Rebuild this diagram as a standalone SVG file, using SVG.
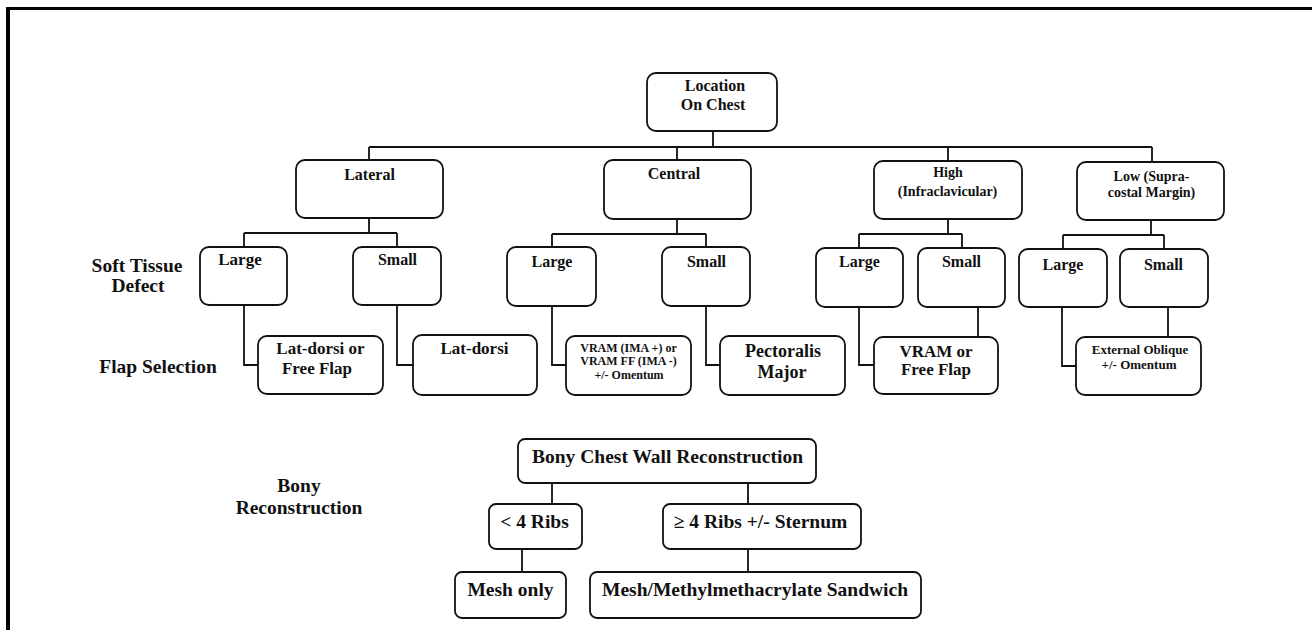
<svg xmlns="http://www.w3.org/2000/svg" width="1312" height="630" viewBox="0 0 1312 630">
<style>
.box{fill:#fff;stroke:#111;stroke-width:1.8}
.c{fill:none;stroke:#111;stroke-width:1.8}
text{font-family:"Liberation Serif","Times New Roman",serif;font-weight:bold;fill:#111;text-anchor:middle}
.s16{font-size:16px}
.s14{font-size:14px}
.s17{font-size:17px}
.s18{font-size:18px}
.s13{font-size:13px}
.s12{font-size:12px}
.lbl{font-size:19.5px}
</style>
<rect x="0" y="0" width="1312" height="630" fill="#fff"/>
<g id="frame">
<rect x="6" y="7" width="1306" height="3" fill="#000"/>
<rect x="6" y="7" width="4" height="623" fill="#000"/>
</g>
<g id="connectors">
<path class="c" d="M713 131V147M369 147H1152M369 147V160M677 147V160M948 147V161M1152 147V162"/>
<path class="c" d="M369 218V233M244 233H397M244 233V247M397 233V247"/>
<path class="c" d="M677 219V234M552 234H706M552 234V247M706 234V247"/>
<path class="c" d="M948 219V234M859 234H962M859 234V248M962 234V248"/>
<path class="c" d="M1151 220V235M1063 235H1164M1063 235V249M1164 235V249"/>
<path class="c" d="M244 305V365H258M397 305V365H413M552 306V365H566M706 306V365H720M859 307V365H874M978 307V337M1062 307V366H1076M1168 307V337"/>
<path class="c" d="M552 483V504M748 483V504M522 549V572M748 549V572"/>
</g>
<g id="location"><rect class="box" x="647" y="73" width="130" height="58" rx="9"/><text class="s16" x="715" y="91">Location</text><text class="s16" x="713" y="110">On Chest</text></g>
<g id="lateral"><rect class="box" x="296" y="160" width="147" height="58" rx="9"/><text class="s16" x="369.5" y="180">Lateral</text></g>
<g id="central"><rect class="box" x="604" y="160" width="147" height="59" rx="9"/><text class="s16" x="674" y="179">Central</text></g>
<g id="high"><rect class="box" x="874" y="161" width="148" height="58" rx="9"/><text class="s14" x="948" y="177">High</text><text class="s14" x="947.5" y="196">(Infraclavicular)</text></g>
<g id="low"><rect class="box" x="1077" y="162" width="147" height="58" rx="9"/><text class="s14" x="1151.5" y="181">Low (Supra-</text><text class="s14" x="1151.5" y="197">costal Margin)</text></g>
<g id="lat-large"><rect class="box" x="200" y="247" width="87" height="58" rx="9"/><text class="s17" x="240" y="265">Large</text></g>
<g id="lat-small"><rect class="box" x="353" y="247" width="88" height="58" rx="9"/><text class="s16" x="397.5" y="265">Small</text></g>
<g id="cen-large"><rect class="box" x="507" y="247" width="89" height="59" rx="9"/><text class="s16" x="552" y="267">Large</text></g>
<g id="cen-small"><rect class="box" x="662" y="247" width="88" height="59" rx="9"/><text class="s16" x="706.5" y="267">Small</text></g>
<g id="high-large"><rect class="box" x="816" y="248" width="87" height="59" rx="9"/><text class="s16" x="859.5" y="267">Large</text></g>
<g id="high-small"><rect class="box" x="918" y="248" width="87" height="59" rx="9"/><text class="s16" x="961.5" y="267">Small</text></g>
<g id="low-large"><rect class="box" x="1019" y="249" width="88" height="58" rx="9"/><text class="s16" x="1063" y="270">Large</text></g>
<g id="low-small"><rect class="box" x="1120" y="249" width="88" height="58" rx="9"/><text class="s16" x="1163.5" y="270">Small</text></g>
<g id="flap-latdorsi-free"><rect class="box" x="258" y="336" width="125" height="58" rx="9"/><text class="s17" x="320.5" y="354">Lat-dorsi or</text><text class="s17" x="317" y="374">Free Flap</text></g>
<g id="flap-latdorsi"><rect class="box" x="413" y="335" width="124" height="60" rx="9"/><text class="s17" x="474.5" y="354">Lat-dorsi</text></g>
<g id="flap-vram"><rect class="box" x="566" y="336" width="125" height="59" rx="9"/><text class="s12" x="628.5" y="352">VRAM (IMA +) or</text><text class="s12" x="628.5" y="365">VRAM FF (IMA -)</text><text class="s12" x="629" y="379">+/- Omentum</text></g>
<g id="flap-pectoralis"><rect class="box" x="720" y="336" width="125" height="59" rx="9"/><text class="s18" x="783" y="357">Pectoralis</text><text class="s18" x="782" y="378">Major</text></g>
<g id="flap-vram-free"><rect class="box" x="874" y="337" width="124" height="57" rx="9"/><text class="s17" x="936" y="357">VRAM or</text><text class="s17" x="936" y="375">Free Flap</text></g>
<g id="flap-external"><rect class="box" x="1076" y="337" width="125" height="58" rx="9"/><text class="s13" x="1140" y="354">External Oblique</text><text class="s13" x="1139" y="369">+/- Omentum</text></g>
<g id="bony-chest"><rect class="box" x="518" y="439" width="298" height="44" rx="7"/><text class="lbl" x="667.5" y="463">Bony Chest Wall Reconstruction</text></g>
<g id="lt4"><rect class="box" x="489" y="504" width="93" height="45" rx="7"/><text class="lbl" x="534.5" y="528">&lt; 4 Ribs</text></g>
<g id="ge4"><rect class="box" x="663" y="504" width="198" height="45" rx="7"/><text class="lbl" x="760.5" y="528">≥ 4 Ribs +/- Sternum</text></g>
<g id="mesh-only"><rect class="box" x="455" y="572" width="111" height="46" rx="7"/><text class="lbl" x="510.5" y="596">Mesh only</text></g>
<g id="mesh-sandwich"><rect class="box" x="590" y="572" width="331" height="46" rx="7"/><text class="lbl" x="755" y="596">Mesh/Methylmethacrylate Sandwich</text></g>
<g id="side-labels">
<text class="lbl" x="137" y="272">Soft Tissue</text>
<text class="lbl" x="138" y="292">Defect</text>
<text class="lbl" x="158" y="373">Flap Selection</text>
<text class="lbl" x="299" y="492">Bony</text>
<text class="lbl" x="299" y="514">Reconstruction</text>
</g>
</svg>
